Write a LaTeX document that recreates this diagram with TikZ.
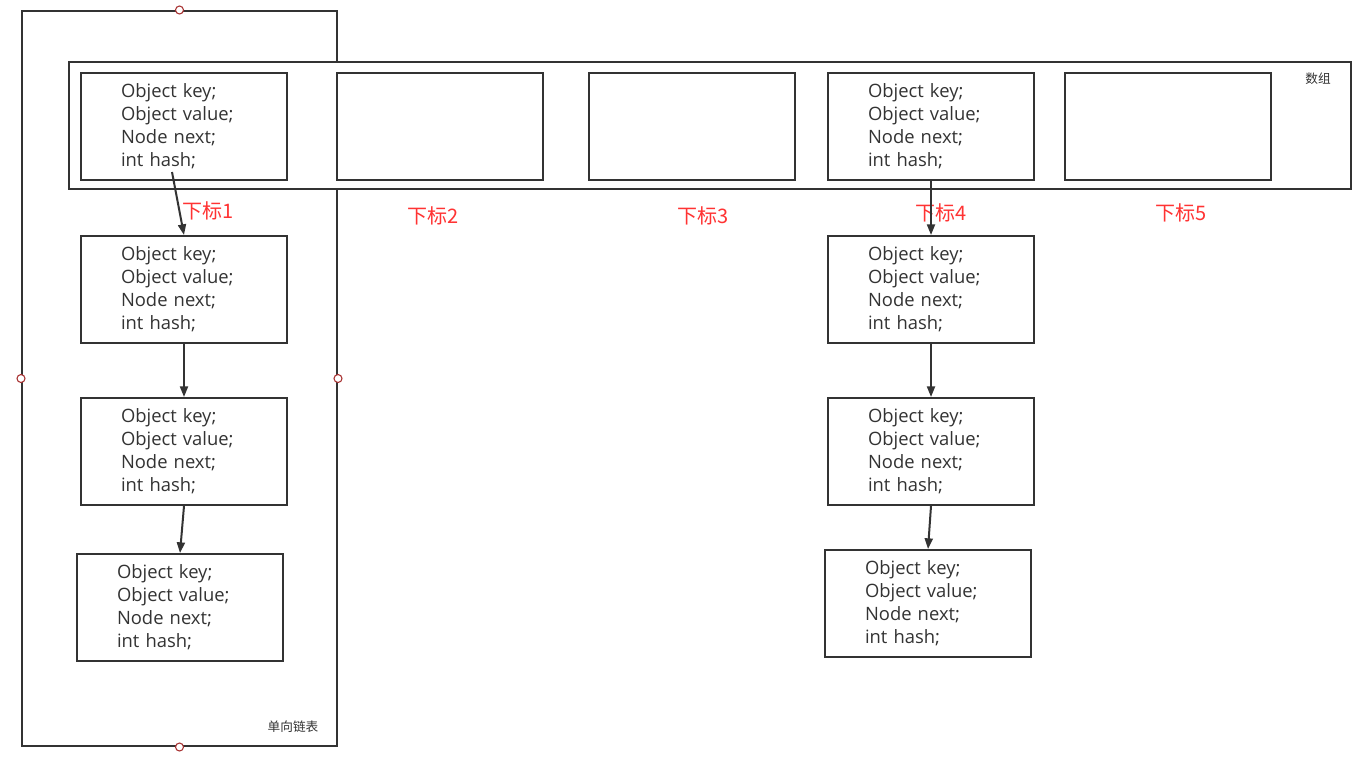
\documentclass[tikz,border=0pt]{standalone}
\usepackage{fontspec}
\setmainfont{Open Sans}
\newfontfamily\cjk{Noto Sans CJK SC}
\usetikzlibrary{arrows.meta}
\definecolor{ink}{HTML}{333333}
\definecolor{idx}{HTML}{FF3333}
\definecolor{pin}{HTML}{A83232}
\newcommand{\fields}{Object key;\\Object value;\\Node next;\\int hash;}
\begin{document}
\begin{tikzpicture}[x=0.75pt,y=-0.75pt,
  frame/.style={draw=ink,line width=1.5pt,inner sep=0pt},
  entry/.style={draw=ink,line width=1.5pt,fill=white,
    minimum width=154.5pt,minimum height=80.25pt,
    inner xsep=30pt,inner ysep=0pt,text width=94.5pt,align=left,
    font=\fontsize{13.8}{17.25}\selectfont,text=ink},
  pin/.style={circle,draw=pin,fill=white,line width=0.8pt,minimum size=6pt,inner sep=0pt},
  index/.style={font=\cjk\fontsize{15}{18}\selectfont,text=idx,inner sep=0pt},
  tag/.style={font=\cjk\fontsize{9.5}{12}\selectfont,text=ink,inner sep=0pt},
  link/.style={draw=ink,line width=1.5pt,-{Triangle[length=8pt,width=6pt]}}]
  \fill[white] (0,0) rectangle (1362,765);
  \useasboundingbox (0,0) rectangle (1362,765);

  % singly linked list frame
  \node[frame,minimum width=236.25pt,minimum height=551.25pt] (list) at (179.5,378.5) {};
  % array frame
  \node[frame,fill=white,minimum width=961.5pt,minimum height=95.25pt] (arr) at (710,125.5) {};

  % array slots
  \node[entry] (s1) at (184,126) {\fields};
  \node[entry] (s2) at (440,126) {};
  \node[entry] (s3) at (692,126) {};
  \node[entry] (s4) at (931,126) {\fields};
  \node[entry] (s5) at (1168,126) {};

  % chained nodes
  \node[entry] (a2) at (184,289.5) {\fields};
  \node[entry] (a3) at (184,451.5) {\fields};
  \node[entry] (a4) at (180,607.5) {\fields};
  \node[entry] (b2) at (931,289.5) {\fields};
  \node[entry] (b3) at (931,451.5) {\fields};
  \node[entry] (b4) at (928,603.5) {\fields};

  % index labels
  \node[index] (i1) at (208,211) {下标1};
  \node[index] (i2) at (433,216) {下标2};
  \node[index] (i3) at (703,216) {下标3};
  \node[index] (i4) at (941,213) {下标4};
  \node[index] (i5) at (1181,213) {下标5};

  % frame captions
  \node[tag] (arrtag) at (1318,79) {数组};
  \node[tag] (listtag) at (293,727) {单向链表};

  % links
  \coordinate (t1) at (172,172);
  \draw[link] (t1) -- (a2.north);
  \draw[link] (a2.south) -- (a3.north);
  \draw[link] (a3.south) -- (a4.north);
  \draw[link] (s4.south) -- (b2.north);
  \draw[link] (b2.south) -- (b3.north);
  \draw[link] (b3.south) -- (b4.north);

  % handles on the list frame
  \node[pin] (p1) at (list.north) {};
  \node[pin] (p2) at (list.south) {};
  \node[pin] (p3) at (list.west) {};
  \node[pin] (p4) at (list.east) {};
\end{tikzpicture}
\end{document}
